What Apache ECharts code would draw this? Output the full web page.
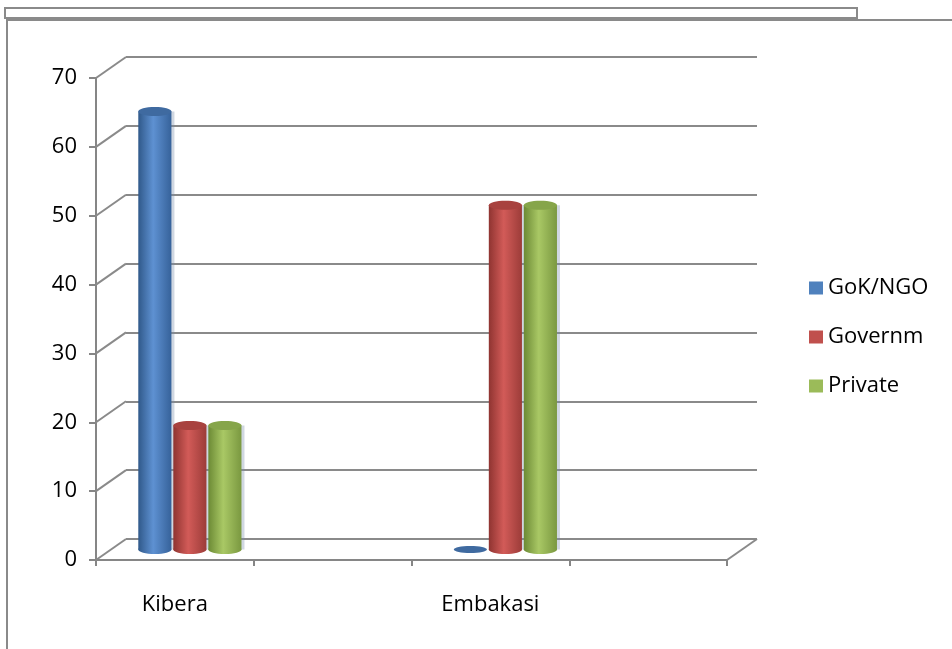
<!DOCTYPE html>
<html>
<head>
<meta charset="utf-8">
<script src="https://cdn.jsdelivr.net/npm/echarts@6/dist/echarts.min.js"></script>
<style>
  html, body { margin: 0; padding: 0; background: #fff; }
  #chart { width: 952px; height: 649px; }
</style>
</head>
<body>
<div id="chart"></div>
<script>
// data (2nd and 4th slots carry no label)
const categories = ['Kibera', '', 'Embakasi', ''];
const gokNgo = [63.6, null, 0, null];
const governm = [18, null, 50, null];
const privateOwned = [18, null, 50, null];
const yTicks = [0, 10, 20, 30, 40, 50, 60, 70];

const FONT = 'Open Sans';
const GRID_LINE = '#8a8a8a';
const DX = 30, DY = 21; // depth of the 3d box

const chart = echarts.init(document.getElementById('chart'));

// one cylinder per data item, slot = position inside the group (-1,0,1)
function cylinderSeries(name, values, slot, pal) {
  return {
    type: 'custom',
    name: name,
    xAxisIndex: 1,
    yAxisIndex: 1,
    itemStyle: { color: pal.base },
    data: values.map((v, i) => [i, v]).filter(d => d[1] != null),
    renderItem: function (params, api) {
      const band = api.size([1, 0])[0];
      const base = api.coord([api.value(0), 0]);
      const top = api.coord([api.value(0), api.value(1)]);
      const w = band * 0.21;
      const cx = base[0] + slot * band * 0.222;
      const ry = 4.5;
      if (api.value(1) === 0) {
        return { type: 'ellipse', shape: { cx: cx, cy: base[1], rx: w / 2, ry: ry - 1 }, style: { fill: pal.top } };
      }
      const grad = new echarts.graphic.LinearGradient(0, 0, 1, 0, [
        { offset: 0, color: pal.dark },
        { offset: 0.45, color: pal.light },
        { offset: 1, color: pal.dark2 }
      ]);
      return {
        type: 'group',
        children: [
          // soft shadow on the right
          { type: 'rect', shape: { x: cx - w / 2 + 3, y: top[1], width: w, height: base[1] - top[1] }, style: { fill: 'rgba(120,140,170,0.35)' } },
          { type: 'ellipse', shape: { cx: cx, cy: base[1], rx: w / 2, ry: ry }, style: { fill: grad } },
          { type: 'rect', shape: { x: cx - w / 2, y: top[1], width: w, height: base[1] - top[1] }, style: { fill: grad } },
          { type: 'ellipse', shape: { cx: cx, cy: top[1], rx: w / 2, ry: ry }, style: { fill: pal.top } }
        ]
      };
    }
  };
}

const blue = { base: '#4f81bd', dark: '#30598a', light: '#5e91d2', dark2: '#36629a', top: '#3f6aa0' };
const red = { base: '#c0504d', dark: '#8f3431', light: '#d25b58', dark2: '#9c3c39', top: '#a8423f' };
const green = { base: '#9bbb59', dark: '#6c8a35', light: '#a9c865', dark2: '#7a9840', top: '#86a54a' };

const hiddenCat = { type: 'category', data: categories, show: false };
const hiddenVal = { type: 'value', min: 0, max: 70, interval: 10, show: false };

const option = {
  animation: false,
  grid: [
    { left: 126, right: 195, top: 57, bottom: 110 },   // back wall
    { left: 111, right: 210, top: 67.5, bottom: 99.5 }, // middle depth (cylinders)
    { left: 96, right: 225, top: 78, bottom: 89 }       // front axes
  ],
  xAxis: [
    Object.assign({ gridIndex: 0 }, hiddenCat),
    Object.assign({ gridIndex: 1 }, hiddenCat),
    {
      gridIndex: 2,
      type: 'category',
      data: categories,
      axisLine: { lineStyle: { color: '#868686', width: 2 } },
      axisTick: { show: true, interval: 0, length: 6, lineStyle: { color: '#868686', width: 2 } },
      axisLabel: { interval: 0, margin: 34, color: '#000', fontSize: 22, fontFamily: FONT }
    }
  ],
  yAxis: [
    {
      gridIndex: 0, type: 'value', min: 0, max: 70, interval: 10,
      axisLine: { show: false }, axisTick: { show: false }, axisLabel: { show: false },
      splitLine: { show: true, lineStyle: { color: GRID_LINE, width: 2 } }
    },
    Object.assign({ gridIndex: 1 }, hiddenVal),
    {
      gridIndex: 2, type: 'value', min: 0, max: 70, interval: 10,
      axisLine: { show: true, lineStyle: { color: '#868686', width: 2 } },
      axisTick: { show: true, length: 7, lineStyle: { color: '#868686', width: 2 } },
      axisLabel: { margin: 19, color: '#000', fontSize: 22, fontFamily: FONT },
      splitLine: { show: false }
    }
  ],
  legend: {
    data: ['GoK/NGO', 'Governm', 'Private'],
    orient: 'vertical',
    left: 809,
    top: 277,
    icon: 'rect',
    itemWidth: 14,
    itemHeight: 13,
    itemGap: 27,
    padding: 0,
    selectedMode: false,
    textStyle: { color: '#000', fontSize: 22, fontFamily: FONT, lineHeight: 21 }
  },
  graphic: [
    { type: 'rect', shape: { x: 5, y: 8, width: 852, height: 10 }, style: { fill: 'none', stroke: '#8a8a8a', lineWidth: 2 } },
    { type: 'line', shape: { x1: 6, y1: 20, x2: 952, y2: 20 }, style: { stroke: '#8a8a8a', lineWidth: 2 } },
    { type: 'line', shape: { x1: 7, y1: 20, x2: 7, y2: 649 }, style: { stroke: '#8a8a8a', lineWidth: 2 } }
  ],
  series: [
    {
      // side-wall diagonals joining front ticks to the back wall
      type: 'custom',
      name: 'depth',
      xAxisIndex: 2,
      yAxisIndex: 2,
      silent: true,
      data: yTicks.map(v => [0, v]),
      renderItem: function (params, api) {
        const cs = params.coordSys;
        const y = api.coord([0, api.value(1)])[1];
        const st = { stroke: GRID_LINE, lineWidth: 2 };
        const kids = [{ type: 'line', shape: { x1: cs.x, y1: y, x2: cs.x + DX, y2: y - DY }, style: st }];
        if (api.value(1) === 0) {
          kids.push({ type: 'line', shape: { x1: cs.x + cs.width, y1: y, x2: cs.x + cs.width + DX, y2: y - DY }, style: st });
        }
        return { type: 'group', children: kids };
      }
    },
    cylinderSeries('GoK/NGO', gokNgo, -1, blue),
    cylinderSeries('Governm', governm, 0, red),
    cylinderSeries('Private', privateOwned, 1, green)
  ]
};

chart.setOption(option);
</script>
</body>
</html>
